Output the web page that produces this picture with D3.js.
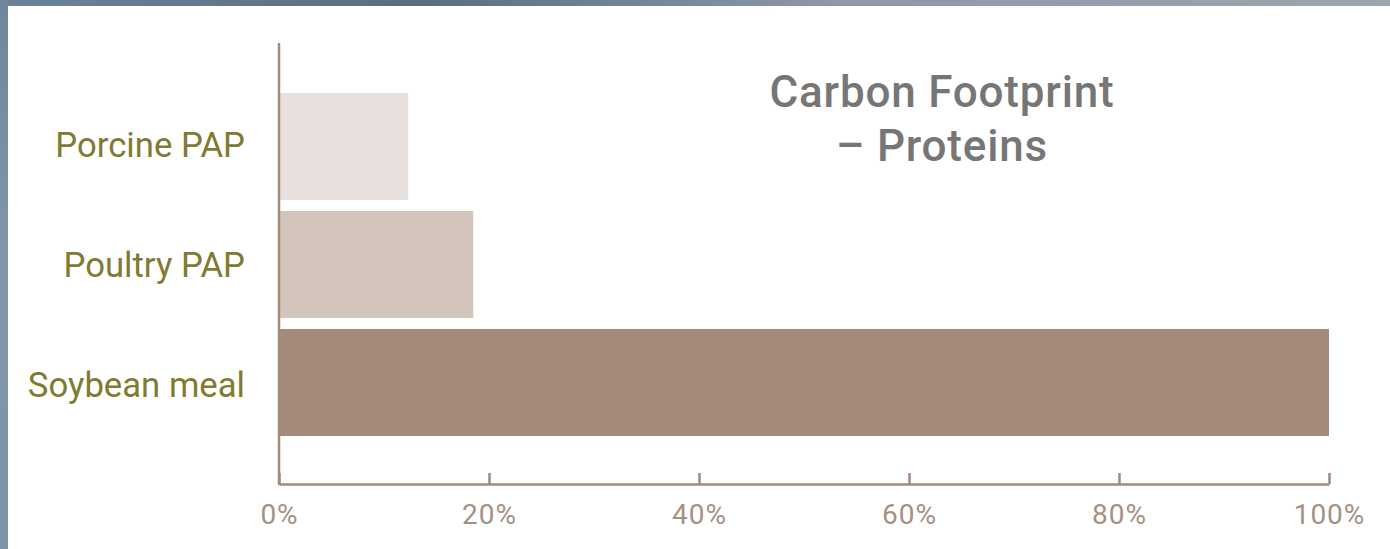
<!DOCTYPE html>
<html>
<head>
<meta charset="utf-8">
<script src="https://cdn.jsdelivr.net/npm/d3@7"></script>
<style>
  html, body { margin: 0; padding: 0; background: #fff; }
  svg { display: block; }
</style>
</head>
<body>
<svg id="chart" width="1390" height="549"></svg>
<script>
// Relative carbon footprint of protein sources (soybean meal = 100%)
const categories = ["Porcine PAP", "Poultry PAP", "Soybean meal"];
const values = [12.3, 18.5, 100];
const barColors = ["#e8e0dc", "#d3c4bc", "#a38a7b"];
const tickValues = [0, 20, 40, 60, 80, 100];
const titleLines = ["Carbon Footprint", "– Proteins"];

const svg = d3.select("#chart");
const W = 1390, H = 549;

// slide frame: blue-grey strips along the top and left edges
const defs = svg.append("defs");
const gTop = defs.append("linearGradient").attr("id", "frameTop")
  .attr("x1", 0).attr("x2", 1).attr("y1", 0).attr("y2", 0);
gTop.append("stop").attr("offset", 0).attr("stop-color", "#6b8398");
gTop.append("stop").attr("offset", 0.3).attr("stop-color", "#5a6e80");
gTop.append("stop").attr("offset", 0.6).attr("stop-color", "#8c99a6");
gTop.append("stop").attr("offset", 1).attr("stop-color", "#9aa6b2");
const gLeft = defs.append("linearGradient").attr("id", "frameLeft")
  .attr("x1", 0).attr("x2", 0).attr("y1", 0).attr("y2", 1);
gLeft.append("stop").attr("offset", 0).attr("stop-color", "#6f869b");
gLeft.append("stop").attr("offset", 0.5).attr("stop-color", "#8297ab");
gLeft.append("stop").attr("offset", 1).attr("stop-color", "#7d93a8");

svg.append("rect").attr("x", 0).attr("y", 0).attr("width", W).attr("height", H).attr("fill", "#fff");
svg.append("rect").attr("x", 0).attr("y", 0).attr("width", W).attr("height", 6).attr("fill", "url(#frameTop)");
svg.append("rect").attr("x", 0).attr("y", 0).attr("width", 8).attr("height", H).attr("fill", "url(#frameLeft)");

const axisColor = "#a38a7b";
const x = d3.scaleLinear().domain([0, 100]).range([279, 1329]);
const y = d3.scaleBand().domain(categories).range([87.5, 441.5])
  .paddingInner(0.093).paddingOuter(0.0465);
// label baselines sit on an evenly spaced grid slightly wider than the bands
const labelY = d3.scalePoint().domain(categories).range([157, 397]);
const baseY = 484;

// bars
svg.append("g").selectAll("rect")
  .data(categories)
  .join("rect")
  .attr("x", x(0))
  .attr("y", d => y(d))
  .attr("width", (d, i) => x(values[i]) - x(0))
  .attr("height", y.bandwidth())
  .attr("fill", (d, i) => barColors[i]);

// x axis with upward ticks
const xAxis = svg.append("g")
  .attr("transform", `translate(0,${baseY})`)
  .call(d3.axisBottom(x).tickValues(tickValues).tickSizeInner(-11).tickSizeOuter(0)
    .tickPadding(20).tickFormat(d => d + "%"));
xAxis.select(".domain").attr("stroke", axisColor).attr("stroke-width", 2.5);
xAxis.selectAll(".tick line").attr("stroke", axisColor).attr("stroke-width", 2.5);
xAxis.selectAll(".tick text")
  .attr("fill", "#a69083")
  .attr("font-family", "Roboto, sans-serif")
  .attr("font-size", 28)
  .attr("letter-spacing", 1)
  .attr("dy", "0.71em");

// vertical axis line
svg.append("line")
  .attr("x1", x(0)).attr("x2", x(0))
  .attr("y1", 43).attr("y2", baseY + 1)
  .attr("stroke", axisColor).attr("stroke-width", 2.5);

// category labels
svg.append("g").selectAll("text")
  .data(categories)
  .join("text")
  .attr("x", 245)
  .attr("y", d => labelY(d))
  .attr("text-anchor", "end")
  .attr("fill", "#7f7b30")
  .attr("font-family", "Roboto, sans-serif")
  .attr("font-size", 34.7)
  .text(d => d);

// title
svg.append("g").selectAll("text")
  .data(titleLines)
  .join("text")
  .attr("x", 942)
  .attr("y", (d, i) => 107 + i * 54)
  .attr("text-anchor", "middle")
  .attr("fill", "#767676")
  .attr("font-family", "Roboto, sans-serif")
  .attr("font-weight", 500)
  .attr("font-size", 44)
  .attr("letter-spacing", 0.8)
  .text(d => d);
</script>
</body>
</html>
